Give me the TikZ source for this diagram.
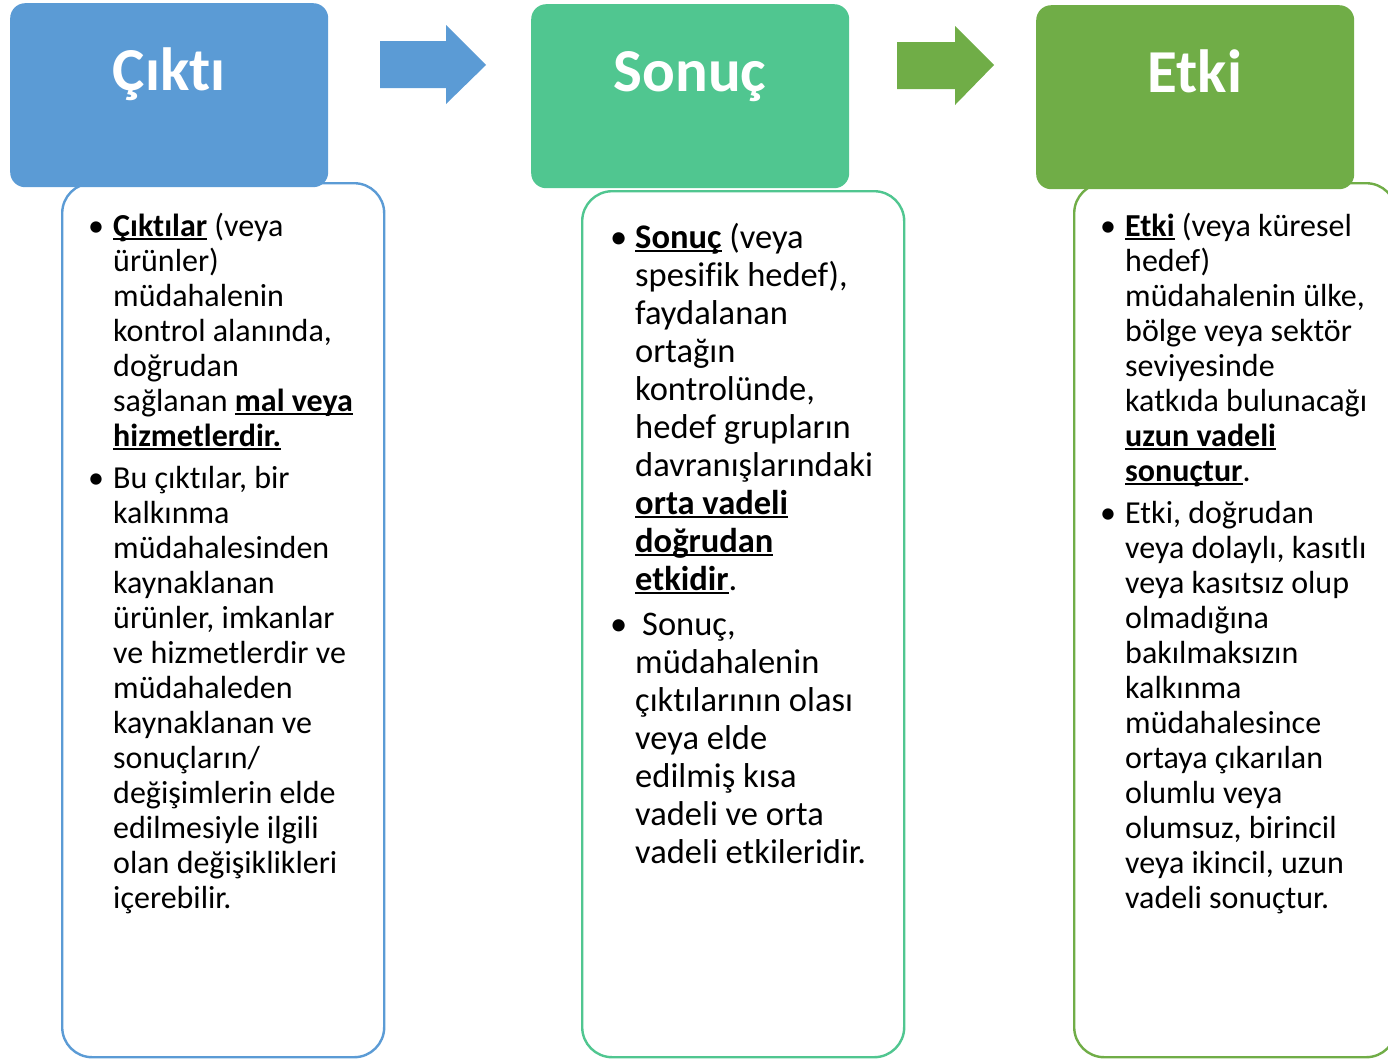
\documentclass[tikz,border=0pt]{standalone}
\usepackage{fontspec}
\setmainfont[Ligatures=NoCommon]{Carlito}
\definecolor{outblue}{HTML}{5B9BD5}
\definecolor{resgreen}{HTML}{50C690}
\definecolor{impgreen}{HTML}{70AD47}

% bold keyword with a fixed underline below the baseline
\newcommand\undl[1]{\leavevmode\sbox0{#1}\rlap{\rule[-4.3pt]{\wd0}{2.3pt}}\usebox0}
% bullet hung to the left of the text column
\newcommand\bul{\leavevmode\llap{\makebox[25pt][l]{\textbullet}}}

\tikzset{
  head/.style={fill=#1, rounded corners=15pt, minimum width=318pt,
    minimum height=184pt, inner sep=0pt, anchor=north west},
  panel/.style={draw=#1, line width=2.4pt, fill=white, rounded corners=30pt,
    minimum width=322pt, inner sep=0pt, anchor=north west},
  title/.style={text=white, font=\fontsize{61}{61}\selectfont\bfseries,
    inner sep=0pt, anchor=base},
  body/.style={inner sep=0pt, anchor=base west, align=left},
  blockarrow/.style={fill=#1, draw=none}
}

\begin{document}
\begin{tikzpicture}[x=1pt, y=-1pt]
\useasboundingbox (0,0) rectangle (1388,1058);
\clip (0,0) rectangle (1388,1058);

% text panels
\node[panel=outblue,  minimum height=874pt] (p1) at (61,182) {};
\node[panel=resgreen, minimum height=866pt] (p2) at (581,190) {};
\node[panel=impgreen, minimum height=874pt] (p3) at (1073,182) {};

% header boxes, drawn over the panel tops
\node[head=outblue]  (h1) at (10,3) {};
\node[head=resgreen] (h2) at (531,4) {};
\node[head=impgreen] (h3) at (1036,5) {};

\node[title] (t1) at (169,90) {Çıktı};
\node[title] (t2) at (690,91) {Sonuç};
\node[title] (t3) at (1195,92) {Etki};

% block arrows between the headers
\fill[blockarrow=outblue] (380,41) -- (446,41) -- (446,25) -- (486,65)
  -- (446,104) -- (446,88) -- (380,88) -- cycle;
\fill[blockarrow=impgreen] (897,42) -- (955,42) -- (955,26) -- (994,65)
  -- (955,105) -- (955,89) -- (897,89) -- cycle;

% panel texts
\node[body] (b1) at (113,236) {\begin{minipage}[t]{400pt}
\fontsize{32}{35}\selectfont\parindent=0pt\parskip=0pt
\bul\undl{\textbf{Çıktılar}} (veya\\
ürünler)\\
müdahalenin\\
kontrol alanında,\\
doğrudan\\
sağlanan \undl{\textbf{mal veya}}\\
\undl{\textbf{hizmetlerdir.}}\par\vspace{7pt}
\bul Bu çıktılar, bir\\
kalkınma\\
müdahalesinden\\
kaynaklanan\\
ürünler, imkanlar\\
ve hizmetlerdir ve\\
müdahaleden\\
kaynaklanan ve\\
sonuçların/\\
değişimlerin elde\\
edilmesiyle ilgili\\
olan değişiklikleri\\
içerebilir.\end{minipage}};

\node[body] (b2) at (635,248) {\begin{minipage}[t]{400pt}
\fontsize{34.5}{38}\selectfont\parindent=0pt\parskip=0pt
\bul\undl{\textbf{Sonuç}} (veya\\
spesifik hedef),\\
faydalanan\\
ortağın\\
kontrolünde,\\
hedef grupların\\
davranışlarındaki\\
\undl{\textbf{orta vadeli}}\\
\undl{\textbf{doğrudan}}\\
\undl{\textbf{etkidir}}.\par\vspace{7pt}
\bul\hspace{7pt}Sonuç,\\
müdahalenin\\
çıktılarının olası\\
veya elde\\
edilmiş kısa\\
vadeli ve orta\\
vadeli etkileridir.\end{minipage}};

\node[body] (b3) at (1125,236) {\begin{minipage}[t]{400pt}
\fontsize{32}{35}\selectfont\parindent=0pt\parskip=0pt
\bul\undl{\textbf{Etki}} (veya küresel\\
hedef)\\
müdahalenin ülke,\\
bölge veya sektör\\
seviyesinde\\
katkıda bulunacağı\\
\undl{\textbf{uzun vadeli}}\\
\undl{\textbf{sonuçtur}}.\par\vspace{7pt}
\bul Etki, doğrudan\\
veya dolaylı, kasıtlı\\
veya kasıtsız olup\\
olmadığına\\
bakılmaksızın\\
kalkınma\\
müdahalesince\\
ortaya çıkarılan\\
olumlu veya\\
olumsuz, birincil\\
veya ikincil, uzun\\
vadeli sonuçtur.\end{minipage}};
\end{tikzpicture}
\end{document}
